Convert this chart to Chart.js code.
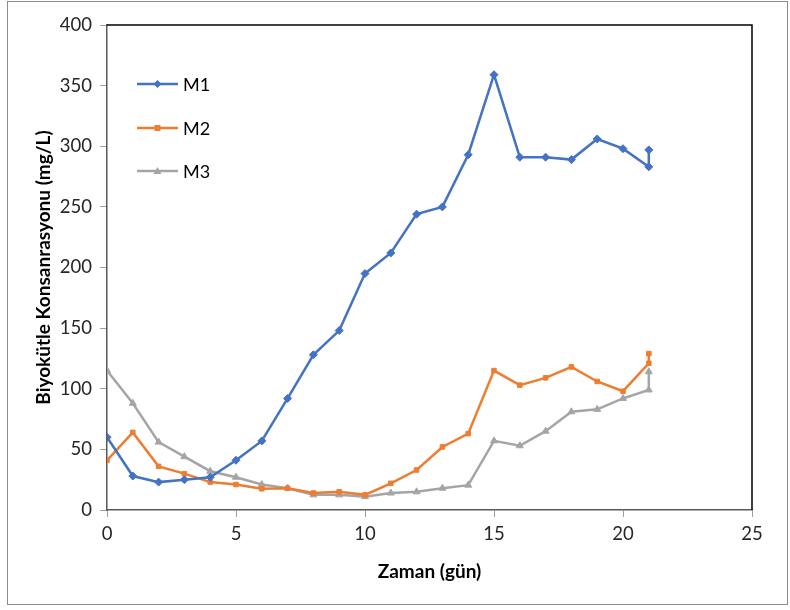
<!DOCTYPE html>
<html>
<head>
<meta charset="utf-8">
<script src="https://cdn.jsdelivr.net/npm/chart.js@4"></script>
<style>
  body { margin: 0; background: #fff; }
  #wrap { width: 790px; height: 610px; position: relative; }
</style>
</head>
<body>
<div id="wrap"><canvas id="grafico"></canvas></div>
<script>
// Dados (Zaman em dias)
const gunler = [0, 1, 2, 3, 4, 5, 6, 7, 8, 9, 10, 11, 12, 13, 14, 15, 16, 17, 18, 19, 20, 21, 21];
const m1 = [60, 28, 23, 25, 27, 41, 57, 92, 128, 148, 195, 212, 244, 250, 293, 359, 291, 291, 289, 306, 298, 283, 297];
const m2 = [41, 64, 36, 30, 23, 21, 17.5, 18, 14, 15, 12.5, 22, 33, 52, 63, 115, 103, 109, 118, 106, 98, 121, 129];
const m3 = [115, 88, 56, 44, 32, 27, 21, 18, 12.5, 12.5, 11, 14, 15, 18, 20.5, 57, 53, 65, 81, 83, 92, 99, 114];
const seriAdlari = ['M1', 'M2', 'M3'];
const renkler = ['#4472C4', '#ED7D31', '#A5A5A5'];
const isaretler = ['rectRot', 'rect', 'triangle'];
const xTicks = [0, 5, 10, 15, 20, 25];
const yTicks = [0, 50, 100, 150, 200, 250, 300, 350, 400];

const fonte = "'Lato', 'Liberation Sans', sans-serif";

function noktalar(valores) {
    return gunler.map((g, i) => ({ x: g, y: valores[i] }));
}

const series = [m1, m2, m3];
const datasets = series.map((v, i) => ({
    label: seriAdlari[i],
    data: noktalar(v),
    showLine: true,
    borderColor: renkler[i],
    backgroundColor: renkler[i],
    borderWidth: 2.5,
    pointStyle: isaretler[i],
    pointRadius: i === 1 ? 3.2 : 4,
    pointBorderWidth: 1,
    tension: 0
}));

// Moldura externa, borda da área do gráfico e legenda
const molduraPlugin = {
    id: 'moldura',
    beforeDraw(chart) {
        const c = chart.ctx;
        c.save();
        c.fillStyle = '#fff';
        c.fillRect(0, 0, chart.width, chart.height);
        c.strokeStyle = '#8c8c8c';
        c.lineWidth = 1;
        c.strokeRect(7.5, 1.5, 780, 603);
        c.restore();
    },
    afterDatasetsDraw(chart) {
        const c = chart.ctx;
        const a = chart.chartArea;
        c.save();
        c.strokeStyle = '#000';
        c.lineWidth = 1.5;
        c.beginPath();
        c.moveTo(a.left, a.top);
        c.lineTo(a.right, a.top);
        c.lineTo(a.right, a.bottom);
        c.stroke();
        // legenda
        const x0 = a.left + 30, x1 = a.left + 71;
        const ys = [a.top + 59, a.top + 103, a.top + 146];
        chart.data.datasets.forEach((ds, i) => {
            const y = ys[i];
            c.strokeStyle = ds.borderColor;
            c.lineWidth = 2.5;
            c.beginPath();
            c.moveTo(x0, y);
            c.lineTo(x1, y);
            c.stroke();
            c.fillStyle = ds.borderColor;
            const mx = (x0 + x1) / 2;
            c.beginPath();
            if (i === 0) {
                c.moveTo(mx, y - 4); c.lineTo(mx + 4, y); c.lineTo(mx, y + 4); c.lineTo(mx - 4, y);
            } else if (i === 1) {
                c.rect(mx - 3, y - 3, 6, 6);
            } else {
                c.moveTo(mx, y - 4); c.lineTo(mx + 4, y + 3); c.lineTo(mx - 4, y + 3);
            }
            c.closePath();
            c.fill();
            c.fillStyle = '#000';
            c.font = '18px ' + fonte;
            c.textBaseline = 'middle';
            c.fillText(ds.label, x1 + 5, y + 1);
        });
        c.restore();
    }
};

new Chart(document.getElementById('grafico'), {
    type: 'scatter',
    data: { datasets: datasets },
    plugins: [molduraPlugin],
    options: {
        responsive: true,
        maintainAspectRatio: false,
        animation: false,
        layout: { padding: { top: 25, right: 38, left: 32, bottom: 27 } },
        plugins: {
            legend: { display: false },
            tooltip: { enabled: false }
        },
        scales: {
            x: {
                type: 'linear',
                min: 0,
                max: 25,
                afterBuildTicks(axis) { axis.ticks = xTicks.map(v => ({ value: v })); },
                afterFit(axis) { axis.height = 73; },
                border: { display: true, color: '#595959', width: 1.5 },
                grid: { drawOnChartArea: false, drawTicks: true, tickLength: 7, color: '#a0a0a0' },
                ticks: { color: '#262626', padding: 6, font: { family: fonte, size: 18.5 } },
                title: {
                    display: true,
                    text: 'Zaman (gün)',
                    color: '#000',
                    padding: { top: 4, bottom: 0 },
                    font: { family: fonte, size: 19, weight: 'bold' }
                }
            },
            y: {
                min: 0,
                max: 400,
                afterBuildTicks(axis) { axis.ticks = yTicks.map(v => ({ value: v })); },
                afterFit(axis) { axis.width = 75; },
                border: { display: true, color: '#595959', width: 1.5 },
                grid: { drawOnChartArea: false, drawTicks: true, tickLength: 7, color: '#a0a0a0' },
                ticks: { color: '#262626', padding: 8, font: { family: fonte, size: 18.5 } },
                title: {
                    display: true,
                    text: 'Biyokütle Konsanrasyonu (mg/L)',
                    color: '#000',
                    padding: { top: 0, bottom: 0 },
                    font: { family: fonte, size: 19, weight: 'bold' }
                }
            }
        }
    }
});
</script>
</body>
</html>
